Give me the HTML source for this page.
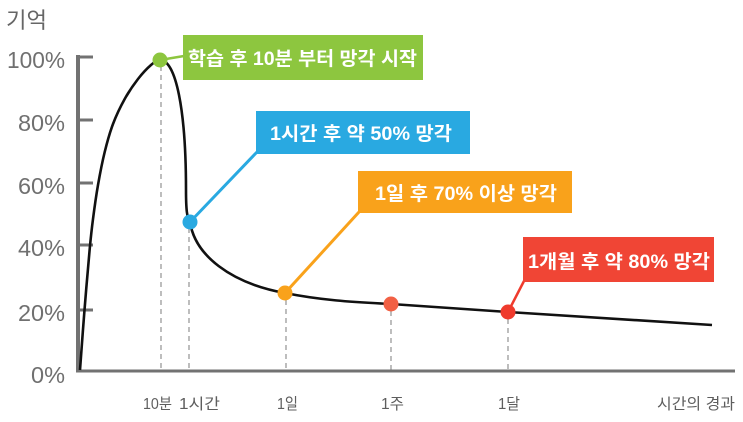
<!DOCTYPE html>
<html>
<head>
<meta charset="utf-8">
<style>
html,body{margin:0;padding:0;background:#fff;}
body{width:743px;height:422px;overflow:hidden;}
svg{display:block;}
text{font-family:"Liberation Sans","Noto Sans CJK KR","NanumGothic",sans-serif;}
</style>
</head>
<body>
<svg width="743" height="422" viewBox="0 0 743 422" xmlns="http://www.w3.org/2000/svg">
  <!-- title -->
  <text x="6" y="28" font-size="22" fill="#666" textLength="41" lengthAdjust="spacingAndGlyphs">기억</text>

  <!-- y labels -->
  <g font-size="23" fill="#707070" text-anchor="end">
    <text x="65" y="68" textLength="58" lengthAdjust="spacingAndGlyphs">100%</text>
    <text x="65" y="131" textLength="47" lengthAdjust="spacingAndGlyphs">80%</text>
    <text x="65" y="194" textLength="47" lengthAdjust="spacingAndGlyphs">60%</text>
    <text x="65" y="256" textLength="47" lengthAdjust="spacingAndGlyphs">40%</text>
    <text x="65" y="321" textLength="47" lengthAdjust="spacingAndGlyphs">20%</text>
    <text x="65" y="383" textLength="34" lengthAdjust="spacingAndGlyphs">0%</text>
  </g>

  <!-- dashed guides -->
  <g stroke="#9a9a9a" stroke-width="1.3" stroke-dasharray="5,4">
    <line x1="161" y1="66" x2="161" y2="370"/>
    <line x1="189" y1="228" x2="189" y2="370"/>
    <line x1="286" y1="300" x2="286" y2="370"/>
    <line x1="391" y1="311" x2="391" y2="370"/>
    <line x1="508" y1="319" x2="508" y2="370"/>
  </g>

  <!-- axes -->
  <g stroke="#727272">
    <line x1="78" y1="55" x2="78" y2="371" stroke-width="4"/>
    <line x1="76" y1="371" x2="735" y2="371" stroke-width="3"/>
    <line x1="76" y1="57" x2="93" y2="57" stroke-width="3"/>
    <line x1="76" y1="120" x2="93" y2="120" stroke-width="3"/>
    <line x1="76" y1="183" x2="93" y2="183" stroke-width="3"/>
    <line x1="76" y1="245" x2="93" y2="245" stroke-width="3"/>
    <line x1="76" y1="310" x2="93" y2="310" stroke-width="3"/>
  </g>

  <!-- curve -->
  <path d="M80,370 C80.75,360 82.88,330.17 84.5,310 C86.12,289.83 88.28,264.17 89.7,249 C91.12,233.83 91.62,229.67 93,219 C94.38,208.33 96.05,196.17 98,185 C99.95,173.83 102.2,162.17 104.7,152 C107.2,141.83 109.67,132.83 113,124 C116.33,115.17 120.53,106.5 124.7,99 C128.87,91.5 133.62,84.67 138,79 C142.38,73.33 147.33,68.17 151,65 C154.67,61.83 157,60 160,60 C176,60 186,110 186,190 C186,210 187,218 190,222 C195,255 230,283 285,293 C320,300 350,302 391,304 L508,312 L712,325"
        fill="none" stroke="#111" stroke-width="2.6"/>

  <!-- connectors -->
  <line x1="160" y1="60" x2="184" y2="56" stroke="#8dc63f" stroke-width="2.5"/>
  <line x1="190" y1="222" x2="257" y2="152" stroke="#29a9e1" stroke-width="3"/>
  <line x1="285" y1="293" x2="359" y2="212" stroke="#f9a21b" stroke-width="3"/>
  <line x1="508" y1="312" x2="524" y2="281" stroke="#ef3b2d" stroke-width="2.5"/>

  <!-- boxes -->
  <rect x="183" y="35" width="240" height="45" fill="#8dc63f"/>
  <rect x="256" y="111" width="214" height="43" fill="#29a9e1"/>
  <rect x="358" y="171" width="214" height="42" fill="#f9a21b"/>
  <rect x="523" y="237" width="191" height="45" fill="#f04535"/>

  <g font-size="19" font-weight="bold" fill="#fff">
    <text x="188" y="65" textLength="229" lengthAdjust="spacingAndGlyphs">학습 후 10분 부터 망각 시작</text>
    <text x="270" y="140" textLength="182" lengthAdjust="spacingAndGlyphs">1시간 후 약 50% 망각</text>
    <text x="375" y="200" textLength="182" lengthAdjust="spacingAndGlyphs">1일 후 70% 이상 망각</text>
    <text x="528" y="268" textLength="182" lengthAdjust="spacingAndGlyphs">1개월 후 약 80% 망각</text>
  </g>

  <!-- dots -->
  <circle cx="160" cy="60" r="7.5" fill="#8dc63f"/>
  <circle cx="190" cy="222" r="7.5" fill="#29a9e1"/>
  <circle cx="285" cy="293" r="7.5" fill="#f9a21b"/>
  <circle cx="391" cy="304" r="7.5" fill="#f26044"/>
  <circle cx="508" cy="312" r="7.5" fill="#ef3b2d"/>

  <!-- x labels -->
  <g font-size="15.5" fill="#5e5e5e">
    <text x="143" y="409" textLength="29" lengthAdjust="spacingAndGlyphs">10분</text>
    <text x="179" y="409" textLength="41" lengthAdjust="spacingAndGlyphs">1시간</text>
    <text x="277" y="409" textLength="21" lengthAdjust="spacingAndGlyphs">1일</text>
    <text x="381" y="409" textLength="23" lengthAdjust="spacingAndGlyphs">1주</text>
    <text x="498" y="409" textLength="22" lengthAdjust="spacingAndGlyphs">1달</text>
    <text x="657" y="409" textLength="78" lengthAdjust="spacingAndGlyphs">시간의 경과</text>
  </g>
</svg>
</body>
</html>
